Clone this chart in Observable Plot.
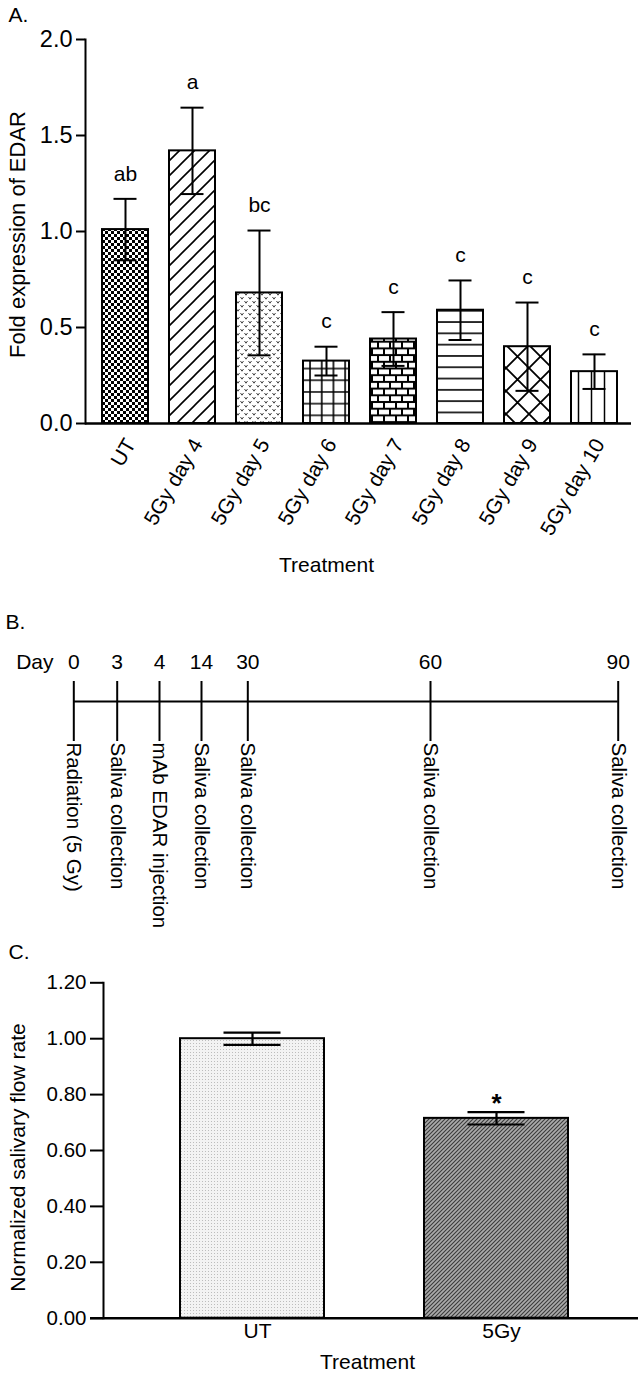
<!DOCTYPE html>
<html><head><meta charset="utf-8">
<script src="https://cdn.jsdelivr.net/npm/d3@7"></script>
<script src="https://cdn.jsdelivr.net/npm/@observablehq/plot@0.6"></script>
<style>
body{margin:0;background:#fff;}
#fig{width:643px;background:#fff;}
#fig svg{display:block;}
</style></head><body><div id="fig"></div>
<script>
// ---------- Panel A data ----------
const categoriesA = ["UT", "5Gy day 4", "5Gy day 5", "5Gy day 6", "5Gy day 7", "5Gy day 8", "5Gy day 9", "5Gy day 10"];
const meanA = [1.01, 1.42, 0.68, 0.325, 0.44, 0.59, 0.40, 0.27];
const errA = [0.16, 0.225, 0.325, 0.075, 0.14, 0.155, 0.23, 0.09];
const lettersA = ["ab", "a", "bc", "c", "c", "c", "c", "c"];
const yTicksA = [0, 0.5, 1.0, 1.5, 2.0];

// ---------- Panel B data ----------
const days = [0, 3, 4, 14, 30, 60, 90];
const events = ["Radiation (5 Gy)", "Saliva collection", "mAb EDAR injection", "Saliva collection", "Saliva collection", "Saliva collection", "Saliva collection"];

// ---------- Panel C data ----------
const categoriesC = ["UT", "5Gy"];
const meanC = [1.00, 0.715];
const errC = [0.022, 0.022];
const sigC = ["", "*"];
const yTicksC = [0, 0.2, 0.4, 0.6, 0.8, 1.0, 1.2];

const font = "Liberation Sans, Arial, Helvetica, sans-serif";
const baseStyle = {fontFamily: font, fontSize: "21px", color: "#000", background: "#fff", overflow: "visible"};

function addDefs(svg, html) {
  const defs = document.createElementNS("http://www.w3.org/2000/svg", "defs");
  defs.innerHTML = html;
  svg.insertBefore(defs, svg.firstChild);
}

// ---------- Panel A ----------
const rowsA = categoriesA.map((c, i) => ({cat: c, mean: meanA[i], lo: meanA[i] - errA[i], hi: meanA[i] + errA[i], letter: lettersA[i], pat: `url(#pA${i})`}));

const svgA = Plot.plot({
  width: 643, height: 585,
  marginTop: 39, marginBottom: 162, marginLeft: 85, marginRight: 12,
  style: baseStyle,
  x: {domain: categoriesA, range: [89.5, 629.5], paddingInner: 0.32, paddingOuter: 0.16, axis: null},
  y: {domain: [0, 2], axis: null},
  color: {type: "identity"},
  marks: [
    Plot.barY(rowsA, {x: "cat", y: "mean", fill: "pat", stroke: "#000", strokeWidth: 2}),
    Plot.ruleX(rowsA, {x: "cat", y1: "lo", y2: "hi", stroke: "#000", strokeWidth: 2}),
    Plot.tickY(rowsA, {x: "cat", y: "hi", insetLeft: 11.5, insetRight: 11.5, stroke: "#000", strokeWidth: 2}),
    Plot.tickY(rowsA, {x: "cat", y: "lo", insetLeft: 11.5, insetRight: 11.5, stroke: "#000", strokeWidth: 2}),
    Plot.text(rowsA, {x: "cat", y: "hi", text: "letter", dy: -25, fontSize: 21, lineAnchor: "middle"}),
    Plot.axisY({ticks: yTicksA, tickFormat: d3.format(".1f"), tickSize: 9, tickPadding: 4, fontSize: 23.5, strokeWidth: 2, label: null}),
    Plot.frame({anchor: "left", strokeWidth: 2}),
    Plot.ruleY([0], {strokeWidth: 2.5}),
    Plot.text(categoriesA, {x: d => d, frameAnchor: "bottom", rotate: -60, textAnchor: "end", lineAnchor: "middle", dx: 5, dy: 17, fontSize: 21}),
    Plot.text(["Fold expression of EDAR"], {frameAnchor: "left", rotate: -90, textAnchor: "middle", lineAnchor: "middle", dx: -68, dy: 3, fontSize: 22}),
    Plot.text(["Treatment"], {frameAnchor: "bottom", textAnchor: "middle", lineAnchor: "middle", dx: -32, dy: 141.5, fontSize: 21}),
    Plot.text(["A."], {frameAnchor: "top-left", textAnchor: "start", lineAnchor: "middle", dx: -77, dy: -24.5, fontSize: 21})
  ]
});
addDefs(svgA, `
<pattern id="pA0" patternUnits="userSpaceOnUse" width="6" height="6"><rect width="6" height="6" fill="#fff"/><rect width="3" height="3" fill="#000"/><rect x="3" y="3" width="3" height="3" fill="#000"/></pattern>
<pattern id="pA1" patternUnits="userSpaceOnUse" width="15" height="15"><rect width="15" height="15" fill="#fff"/><path d="M-1,16L16,-1M-4,4L4,-4M11,19L19,11" stroke="#000" stroke-width="1.6"/></pattern>
<pattern id="pA2" patternUnits="userSpaceOnUse" width="8" height="8"><rect width="8" height="8" fill="#fff"/><path d="M0.5,1L2,3.2L3.5,1M4.5,5L6,7.2L7.5,5" fill="none" stroke="#444" stroke-width="1"/></pattern>
<pattern id="pA3" patternUnits="userSpaceOnUse" width="11.7" height="11.7"><rect width="11.7" height="11.7" fill="#fff"/><path d="M5.85,0V11.7M0,5.85H11.7" stroke="#000" stroke-width="1.6"/></pattern>
<pattern id="pA4" patternUnits="userSpaceOnUse" width="12" height="13.4"><rect width="12" height="13.4" fill="#000"/><rect x="1" y="1" width="10" height="4.7" fill="#fff"/><rect x="-5" y="7.7" width="10" height="4.7" fill="#fff"/><rect x="7" y="7.7" width="10" height="4.7" fill="#fff"/></pattern>
<pattern id="pA5" patternUnits="userSpaceOnUse" width="10" height="11.3"><rect width="10" height="11.3" fill="#fff"/><path d="M0,5.65H10" stroke="#000" stroke-width="1.6"/></pattern>
<pattern id="pA6" patternUnits="userSpaceOnUse" width="23" height="23"><rect width="23" height="23" fill="#fff"/><path d="M-2,-2L25,25M25,-2L-2,25" stroke="#000" stroke-width="1.8"/></pattern>
<pattern id="pA7" patternUnits="userSpaceOnUse" width="13" height="10"><rect width="13" height="10" fill="#fff"/><path d="M6.5,0V10" stroke="#000" stroke-width="1.5"/></pattern>
`);

// ---------- Panel B ----------
const evRows = days.map((d, i) => ({day: d, label: events[i]}));
const svgB = Plot.plot({
  width: 643, height: 355,
  marginTop: 96, marginBottom: 199, marginLeft: 73, marginRight: 25,
  style: baseStyle,
  x: {type: "linear", domain: days, range: [73.3, 116.7, 159, 201, 247.3, 430, 617.7], axis: null},
  y: {domain: [-2, 1], axis: null},
  marks: [
    Plot.ruleY([0], {x1: () => days[0], x2: () => days[days.length - 1], stroke: "#000", strokeWidth: 2}),
    Plot.ruleX(days, {x: d => d, stroke: "#000", strokeWidth: 2}),
    Plot.text(days, {x: d => d, text: d => String(d), frameAnchor: "top", textAnchor: "middle", lineAnchor: "middle", dy: -19, fontSize: 21}),
    Plot.text(["Day"], {frameAnchor: "top-left", textAnchor: "end", lineAnchor: "middle", dx: -20, dy: -19, fontSize: 21}),
    Plot.text(evRows, {x: "day", text: "label", frameAnchor: "bottom", rotate: 90, textAnchor: "start", lineAnchor: "middle", dy: 1, fontSize: 20.5}),
    Plot.text(["B."], {frameAnchor: "top-left", textAnchor: "start", lineAnchor: "middle", dx: -68, dy: -59.5, fontSize: 21})
  ]
});

// ---------- Panel C ----------
const rowsC = categoriesC.map((c, i) => ({cat: c, mean: meanC[i], lo: meanC[i] - errC[i], hi: meanC[i] + errC[i], sig: sigC[i], pat: `url(#pC${i})`}));
const svgC = Plot.plot({
  width: 643, height: 435,
  marginTop: 42.3, marginBottom: 57.3, marginLeft: 103, marginRight: 5,
  style: baseStyle,
  x: {domain: categoriesC, range: [129.3, 618.9], paddingInner: 0.41, paddingOuter: 0.205, axis: null},
  y: {domain: [0, 1.2], axis: null},
  color: {type: "identity"},
  marks: [
    Plot.barY(rowsC, {x: "cat", y: "mean", fill: "pat", stroke: "#000", strokeWidth: 2}),
    Plot.ruleX(rowsC, {x: "cat", y1: "lo", y2: "hi", stroke: "#000", strokeWidth: 2.2}),
    Plot.tickY(rowsC, {x: "cat", y: "hi", insetLeft: 43.5, insetRight: 43.5, stroke: "#000", strokeWidth: 2.2}),
    Plot.tickY(rowsC, {x: "cat", y: "lo", insetLeft: 43.5, insetRight: 43.5, stroke: "#000", strokeWidth: 2.2}),
    Plot.text(rowsC, {x: "cat", y: "hi", text: "sig", dy: -9, fontSize: 26, fontWeight: "bold", lineAnchor: "middle"}),
    Plot.axisY({ticks: yTicksC, tickFormat: d3.format(".2f"), tickSize: 13, tickPadding: 4, fontSize: 20.5, strokeWidth: 2, label: null}),
    Plot.frame({anchor: "left", strokeWidth: 2}),
    Plot.ruleY([0], {insetLeft: -13, strokeWidth: 2.5}),
    Plot.text(categoriesC, {x: d => d, frameAnchor: "bottom", textAnchor: "middle", lineAnchor: "middle", dx: 5, dy: 13, fontSize: 21}),
    Plot.text(["Normalized salivary flow rate"], {frameAnchor: "left", rotate: -90, textAnchor: "middle", lineAnchor: "middle", dx: -85, dy: 7, fontSize: 21}),
    Plot.text(["Treatment"], {frameAnchor: "bottom", textAnchor: "middle", lineAnchor: "middle", dx: -3.5, dy: 44, fontSize: 21}),
    Plot.text(["C."], {frameAnchor: "top-left", textAnchor: "start", lineAnchor: "middle", dx: -95, dy: -30.8, fontSize: 21})
  ]
});
addDefs(svgC, `
<pattern id="pC0" patternUnits="userSpaceOnUse" width="3" height="3"><rect width="3" height="3" fill="#f3f3f3"/><rect x="1" y="1" width="1" height="1" fill="#bdbdbd"/></pattern>
<pattern id="pC1" patternUnits="userSpaceOnUse" width="4" height="4"><rect width="4" height="4" fill="#aaaaaa"/><path d="M0,4L4,0M-1,1L1,-1M3,5L5,3" stroke="#3a3a3a" stroke-width="1.1"/></pattern>
`);

const fig = document.getElementById("fig");
fig.append(svgA, svgB, svgC);
</script>
</body></html>
